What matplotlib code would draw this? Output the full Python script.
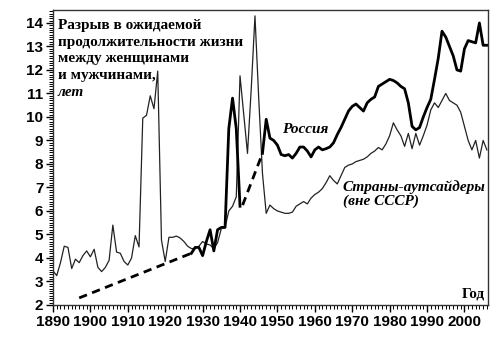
import numpy as np
import matplotlib.pyplot as plt
from matplotlib.ticker import MultipleLocator

# разрыв в ожидаемой продолжительности жизни (лет)
out_years = list(range(1890, 2007))
out_gap = [3.45, 3.25, 3.8, 4.5, 4.45, 3.55, 3.95, 3.8, 4.1, 4.3,
           4.05, 4.37, 3.6, 3.42, 3.6, 3.9, 5.4, 4.25, 4.2, 3.85,
           3.7, 4.0, 4.95, 4.47, 9.95, 10.07, 10.9, 10.35, 11.95, 4.76,
           3.85, 4.88, 4.88, 4.93, 4.85, 4.7, 4.5, 4.4, 4.4, 4.5,
           4.7, 4.6, 4.55, 4.4, 4.65, 5.25, 5.3, 6.0, 6.2, 6.6,
           11.75, 10.1, 8.45, 11.2, 14.3, 10.8, 7.6, 5.9, 6.25, 6.1,
           6.0, 5.95, 5.9, 5.9, 5.95, 6.2, 6.3, 6.4, 6.3, 6.55,
           6.7, 6.8, 6.95, 7.2, 7.5, 7.3, 7.15, 7.5, 7.85, 7.95,
           8.0, 8.1, 8.15, 8.2, 8.3, 8.45, 8.55, 8.7, 8.6, 8.85,
           9.2, 9.75, 9.45, 9.2, 8.75, 9.3, 8.65, 9.3, 8.8, 9.2,
           9.65, 10.3, 10.6, 10.4, 10.7, 11.0, 10.7, 10.6, 10.5, 10.2,
           9.6, 9.0, 8.6, 9.0, 8.25, 9.0, 8.6]

rus_years_a = list(range(1927, 1941))
rus_gap_a = [4.2, 4.45, 4.45, 4.1, 4.7, 5.2, 4.3, 5.2, 5.3, 5.3,
             9.5, 10.8, 9.5, 6.2]

rus_years_b = list(range(1946, 2007))
rus_gap_b = [8.45, 9.9, 9.1, 9.0, 8.8, 8.4, 8.35, 8.4, 8.25, 8.45,
             8.72, 8.72, 8.55, 8.3, 8.6, 8.72, 8.6, 8.65, 8.72, 8.9,
             9.25, 9.55, 9.9, 10.25, 10.45, 10.55, 10.4, 10.25, 10.6, 10.75,
             10.85, 11.3, 11.4, 11.5, 11.6, 11.55, 11.45, 11.3, 11.2, 10.6,
             9.6, 9.45, 9.55, 10.0, 10.4, 10.75, 11.6, 12.5, 13.65, 13.4,
             13.0, 12.6, 12.0, 11.95, 12.9, 13.25, 13.2, 13.15, 14.0, 13.05,
             13.05]

# пунктир (оценки)
est_years_a = [1897, 1927]
est_gap_a = [2.3, 4.2]
est_years_b = [1940.7, 1946]
est_gap_b = [6.25, 8.45]

plt.rcParams['font.family'] = ['Liberation Sans', 'DejaVu Sans']

fig = plt.figure(figsize=(5, 3.45), dpi=100)
ax = fig.add_axes([0.106, 0.116, 0.87, 0.855])

ax.plot(out_years, out_gap, color='#222222', lw=0.9)
ax.plot(rus_years_a, rus_gap_a, color='black', lw=2.0)
ax.plot(rus_years_b, rus_gap_b, color='black', lw=2.0)
ax.plot(est_years_a, est_gap_a, color='black', lw=2.0, ls=(0, (3, 2)))
ax.plot(est_years_b, est_gap_b, color='black', lw=2.0, ls=(0, (3, 2)))

ax.set_xlim(1890, 2006.3)
ax.set_ylim(2, 14.55)
ax.xaxis.set_major_locator(MultipleLocator(10))
ax.xaxis.set_minor_locator(MultipleLocator(1))
ax.yaxis.set_major_locator(MultipleLocator(1))
ax.yaxis.set_minor_locator(MultipleLocator(0.1))
ax.tick_params(which='major', length=5, width=1.0, labelsize=11, pad=2)
ax.tick_params(which='minor', length=3, width=0.7)
for lab in ax.get_xticklabels() + ax.get_yticklabels():
    lab.set_fontweight('bold')
for s in ax.spines.values():
    s.set_linewidth(1.0)
    s.set_color('#333333')

serif = 'Liberation Serif'
ax.text(1891.3, 14.17, 'Разрыв в ожидаемой\nпродолжительности жизни\nмежду женщинами\nи мужчинами,',
        family=serif, fontweight='bold', fontsize=11, va='top', ha='left', linespacing=1.36)
ax.text(1891.3, 11.05, 'лет', family=serif, fontweight='bold', style='italic',
        fontsize=11, va='center', ha='left')
ax.text(1951.2, 9.47, 'Россия', family=serif, fontweight='bold', style='italic',
        fontsize=11, va='center', ha='left')
ax.text(1967.5, 6.72, 'Страны-аутсайдеры\n(вне СССР)', family=serif, fontweight='bold',
        style='italic', fontsize=11, va='center', ha='left', linespacing=1.1)
ax.text(2005.5, 2.47, 'Год', family=serif, fontweight='bold', fontsize=11,
        va='center', ha='right')

fig.savefig('out.png', dpi=100)
